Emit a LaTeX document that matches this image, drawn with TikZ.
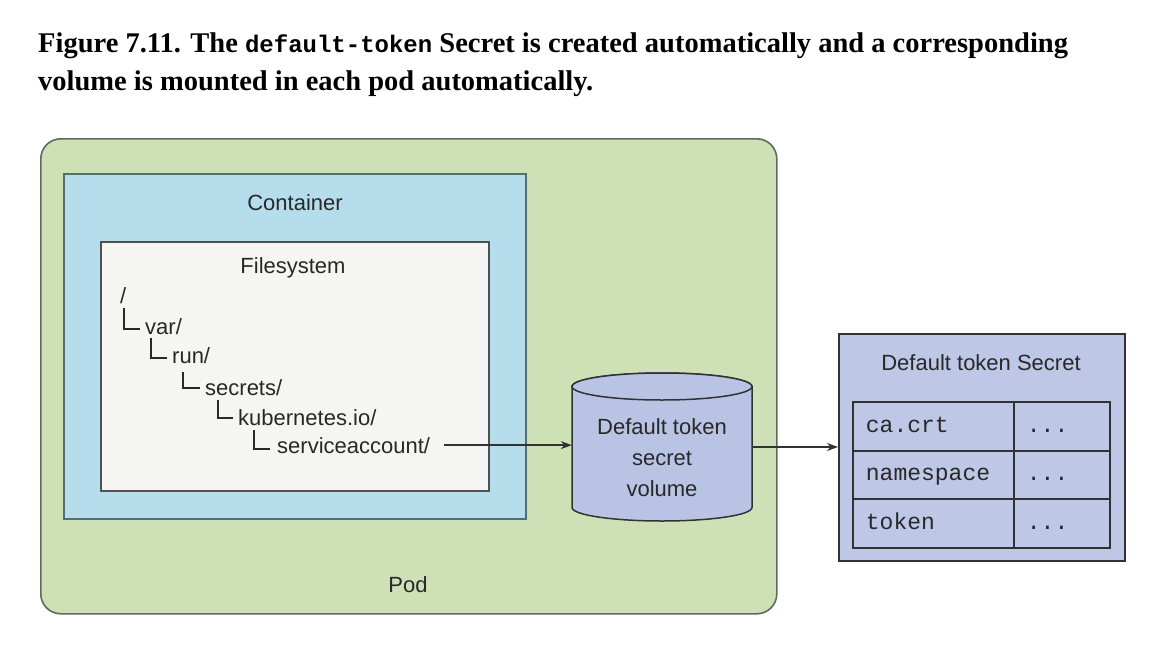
\documentclass[tikz,border=0pt]{standalone}
\usepackage{fontspec}
\setmainfont{Liberation Serif}
\setsansfont{Liberation Sans}
\setmonofont{Liberation Mono}
\usetikzlibrary{arrows.meta}
\definecolor{podfill}{RGB}{206,225,182}
\definecolor{podline}{RGB}{95,105,95}
\definecolor{contfill}{RGB}{182,221,236}
\definecolor{contline}{RGB}{85,110,115}
\definecolor{fsfill}{RGB}{245,245,244}
\definecolor{fsline}{RGB}{80,80,80}
\definecolor{volfill}{RGB}{185,196,228}
\definecolor{secfill}{RGB}{191,199,231}
\definecolor{ink}{RGB}{40,40,40}
\definecolor{lineink}{RGB}{50,50,50}
\begin{document}
\begin{tikzpicture}[x=1pt,y=-1pt,
  lbl/.style={font=\sffamily\fontsize{22}{26}\selectfont, text=ink, inner sep=0pt},
  tree/.style={lbl, anchor=base west},
  treeline/.style={draw=ink, line width=1.5pt},
  box/.style={anchor=north west, inner sep=0pt, line width=1.6pt},
  cell/.style={box, draw=lineink, line width=1.8pt, minimum height=48.7pt,
    font=\ttfamily\fontsize{23}{26}\selectfont, text=ink, align=left, inner xsep=13pt,
    text height=16pt, text depth=4pt},
  conn/.style={draw=lineink, line width=1.3pt, -{Stealth[length=11pt,width=8pt]}},
  title/.style={anchor=base west, inner sep=0pt, font=\bfseries\fontsize{28.5}{34}\selectfont}
]
\useasboundingbox (0,0) rectangle (1156,653);
\fill[white] (0,0) rectangle (1156,653);

% caption
\node[title] (t1) at (38,52) {Figure 7.11. The {\fontsize{24}{30}\selectfont\ttfamily default-token} Secret is created automatically and a corresponding};
\node[title] (t2) at (38,90) {volume is mounted in each pod automatically.};

% nested boxes
\node[box, draw=podline, fill=podfill, rounded corners=20pt, minimum width=736pt, minimum height=475pt] (pod) at (40,138) {};
\node[box, draw=contline, fill=contfill, minimum width=462pt, minimum height=345pt] (cont) at (63,173) {};
\node[box, draw=fsline, fill=fsfill, minimum width=388pt, minimum height=249pt] (fs) at (100,241) {};

\node[lbl] (podlbl) at (408,585) {Pod};
\node[lbl] (contlbl) at (295,203) {Container};
\node[lbl] (fslbl) at (293,268) {Filesystem};

% filesystem tree
\node[tree] (root) at (120,303) {/};
\node[tree] (var) at (145,334) {var/};
\node[tree] (run) at (172,363) {run/};
\node[tree] (secrets) at (205,395) {secrets/};
\node[tree] (kube) at (238,425) {kubernetes.io/};
\node[tree] (sacc) at (277,453) {serviceaccount/};
\draw[treeline] (124,308) -- (124,329) -- (140,329);
\draw[treeline] (151,338) -- (151,358) -- (167,358);
\draw[treeline] (183,372) -- (183,388) -- (200,388);
\draw[treeline] (218,400) -- (218,418) -- (233,418);
\draw[treeline] (254,430) -- (254,449) -- (270,449);

% volume cylinder
\node[inner sep=0pt, minimum width=180pt, minimum height=148pt] (vol) at (662,447) {};
\path[fill=volfill, draw=lineink, line width=1.5pt]
  (572,386.5) -- (572,507.5) arc[start angle=180, end angle=0, x radius=90, y radius=13.5]
  -- (752,386.5) arc[start angle=0, end angle=-180, x radius=90, y radius=13.5] -- cycle;
\draw[fill=volfill, draw=lineink, line width=1.5pt] (662,386.5) ellipse [x radius=90, y radius=13.5];
\node[lbl, align=center, font=\sffamily\fontsize{22}{31}\selectfont] (voltext) at (662,458) {Default token\\secret\\volume};

% secret
\node[box, draw=lineink, fill=secfill, minimum width=286pt, minimum height=227pt] (secret) at (838,333) {};
\node[lbl] (seclbl) at (981,363) {Default token Secret};
\node[cell, text width=135pt] (k1) at (852,401) {ca.crt};
\node[cell, text width=70pt] (v1) at (1013,401) {...};
\node[cell, text width=135pt] (k2) at (852,449.7) {namespace};
\node[cell, text width=70pt] (v2) at (1013,449.7) {...};
\node[cell, text width=135pt] (k3) at (852,498.4) {token};
\node[cell, text width=70pt] (v3) at (1013,498.4) {...};

% connectors
\draw[conn] ([xshift=14pt]sacc.east) -- (sacc.east -| vol.west);
\draw[conn] (vol.east) -- (vol.east -| secret.west);
\end{tikzpicture}
\end{document}
